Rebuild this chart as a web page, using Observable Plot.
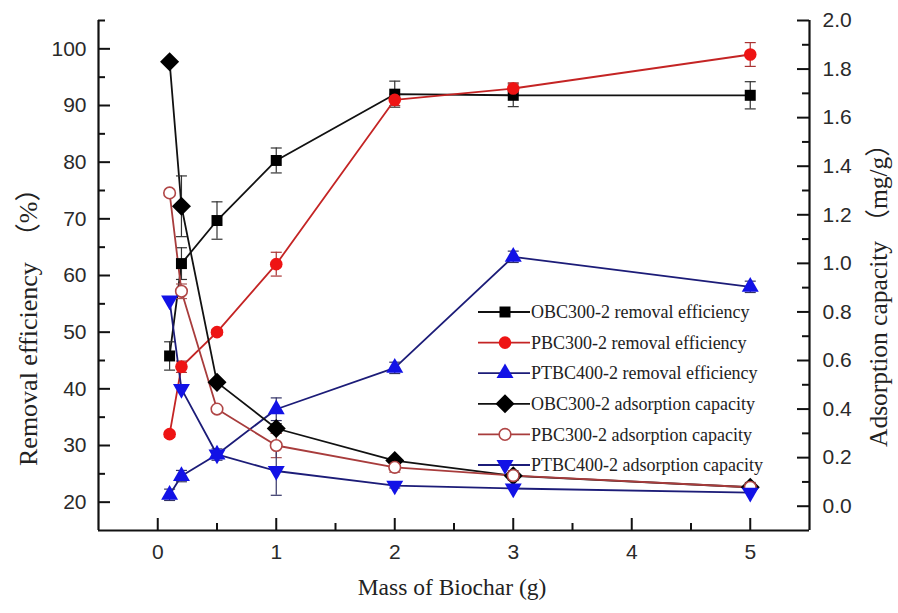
<!DOCTYPE html>
<html><head><meta charset="utf-8">
<script src="https://cdn.jsdelivr.net/npm/d3@7"></script>
<script src="https://cdn.jsdelivr.net/npm/@observablehq/plot@0.6"></script>
<style>body{margin:0;background:#fff} #chart{position:relative;width:898px;height:613px}</style>
</head><body><div id="chart"></div>
<script>
// ---- data ----
const mass = [0.1, 0.2, 0.5, 1, 2, 3, 5];
const seriesNames = [
  "OBC300-2 removal efficiency",
  "PBC300-2 removal efficiency",
  "PTBC400-2 removal efficiency",
  "OBC300-2 adsorption capacity",
  "PBC300-2 adsorption capacity",
  "PTBC400-2 adsorption capacity"
];
const obcRemoval = [45.8, 62.1, 69.7, 80.3, 92.0, 91.8, 91.8];
const obcRemovalErr = [2.5, 2.8, 3.3, 2.2, 2.3, 2.0, 2.4];
const pbcRemoval = [32.0, 43.9, 50.0, 62.0, 91.0, 93.0, 99.0];
const pbcRemovalErr = [0.5, 1.0, 0.5, 2.1, 1.0, 1.0, 2.1];
const ptbcRemoval = [21.3, 24.6, 28.4, 36.4, 43.7, 63.3, 58.0];
const ptbcRemovalErr = [1.0, 1.0, 1.0, 2.0, 1.0, 1.0, 1.0];
const obcAds = [1.83, 1.235, 0.51, 0.32, 0.188, 0.125, 0.078];
const obcAdsErr = [0, 0.125, 0.01, 0.02, 0.01, 0, 0];
const pbcAds = [1.29, 0.885, 0.40, 0.25, 0.16, 0.126, 0.078];
const pbcAdsErr = [0, 0.03, 0, 0.05, 0.02, 0.02, 0.02];
const ptbcAds = [0.847, 0.483, 0.213, 0.145, 0.085, 0.073, 0.056];
const ptbcAdsErr = [0, 0, 0, 0.1, 0.01, 0, 0];
const xTicks = [0, 1, 2, 3, 4, 5];
const xMinorTicks = [0.5, 1.5, 2.5, 3.5, 4.5];
const leftTicks = [20, 30, 40, 50, 60, 70, 80, 90, 100];
const leftMinorTicks = [25, 35, 45, 55, 65, 75, 85, 95, 105];
const rightTicks = [0.0, 0.2, 0.4, 0.6, 0.8, 1.0, 1.2, 1.4, 1.6, 1.8, 2.0];
const rightMinorTicks = [0.1, 0.3, 0.5, 0.7, 0.9, 1.1, 1.3, 1.5, 1.7, 1.9];

// ---- geometry ----
const W = 898, H = 613, mL = 98, mR = 89, mT = 20, mB = 83;
const xDomain = [-0.5, 5.5], yDomain = [15, 105];
const xPerPx = (xDomain[1] - xDomain[0]) / (W - mL - mR);
const yPerPx = (yDomain[1] - yDomain[0]) / (H - mT - mB);

// ---- symbols ----
const sqrt3 = Math.sqrt(3);
const triDown = {draw(ctx, size) {const y = -Math.sqrt(size / (sqrt3 * 3)); ctx.moveTo(0, -y * 2); ctx.lineTo(-sqrt3 * y, y); ctx.lineTo(sqrt3 * y, y); ctx.closePath();}};
const triUp = {draw(ctx, size) {const y = -Math.sqrt(size / (sqrt3 * 3)); ctx.moveTo(0, y * 2); ctx.lineTo(-sqrt3 * y, -y); ctx.lineTo(sqrt3 * y, -y); ctx.closePath();}};
const diamond = {draw(ctx, size) {const s = Math.sqrt(size / 2); ctx.moveTo(0, -s); ctx.lineTo(s, 0); ctx.lineTo(0, s); ctx.lineTo(-s, 0); ctx.closePath();}};
const square = {draw(ctx, size) {const s = Math.sqrt(size) / 2; ctx.rect(-s, -s, 2 * s, 2 * s);}};
const circle = {draw(ctx, size) {const r = Math.sqrt(size / Math.PI); ctx.moveTo(r, 0); ctx.arc(0, 0, r, 0, 2 * Math.PI);}};
const cap = {draw(ctx) {ctx.moveTo(-5.5, 0); ctx.lineTo(5.5, 0);}};

const toLeft = d3.scaleLinear([-0.1, 2.0], yDomain);
const fmt1 = d => { const v = Math.round(toLeft.invert(d) * 10) / 10; return (v === 0 ? 0 : v).toFixed(1); };

const series = [
  {name: seriesNames[0], values: obcRemoval, err: obcRemovalErr, right: false, symbol: square, r: 6.2, fill: "#000", mstroke: "none", line: "#111", errc: "#333"},
  {name: seriesNames[1], values: pbcRemoval, err: pbcRemovalErr, right: false, symbol: circle, r: 6.3, fill: "#ee1414", mstroke: "none", line: "#c42424", errc: "#a33"},
  {name: seriesNames[2], values: ptbcRemoval, err: ptbcRemovalErr, right: false, symbol: triUp, r: 6.3, fill: "#1212e6", mstroke: "none", line: "#1c1c78", errc: "#336"},
  {name: seriesNames[3], values: obcAds, err: obcAdsErr, right: true, symbol: diamond, r: 7.6, fill: "#000", mstroke: "none", line: "#111", errc: "#333"},
  {name: seriesNames[4], values: pbcAds, err: pbcAdsErr, right: true, symbol: circle, r: 5.8, fill: "#fff", mstroke: "#b04646", line: "#a83c3c", errc: "#a55"},
  {name: seriesNames[5], values: ptbcAds, err: ptbcAdsErr, right: true, symbol: triDown, r: 6.3, fill: "#1212e6", mstroke: "none", line: "#1c1c78", errc: "#336"}
];

const rowsOf = s => s.values.map((v, i) => {
  const f = s.right ? toLeft : (d => d);
  return {x: mass[i], y: f(v), lo: f(v - s.err[i]), hi: f(v + s.err[i]), e: s.err[i]};
});

const seriesMarks = series.flatMap(s => {
  const rows = rowsOf(s);
  const er = rows.filter(d => d.e > 0);
  return [
    Plot.line(rows, {x: "x", y: "y", stroke: s.line, strokeWidth: 1.8}),
    Plot.ruleX(er, {x: "x", y1: "lo", y2: "hi", stroke: s.errc, strokeWidth: 1.2}),
    Plot.dot(er, {x: "x", y: "hi", symbol: cap, stroke: s.errc, strokeWidth: 1.2}),
    Plot.dot(er, {x: "x", y: "lo", symbol: cap, stroke: s.errc, strokeWidth: 1.2})
  ];
});
const dotMarks = series.map(s => Plot.dot(rowsOf(s), {x: "x", y: "y", symbol: s.symbol, r: s.r, fill: s.fill, stroke: s.mstroke, strokeWidth: 1.6}));

// inward tick marks as short rules
const tk = {stroke: "#111", strokeWidth: 2};
const tickMarks = [
  Plot.ruleY(leftTicks, {y: d => d, x1: () => xDomain[0], x2: () => xDomain[0] + 12 * xPerPx, ...tk}),
  Plot.ruleY(leftMinorTicks, {y: d => d, x1: () => xDomain[0], x2: () => xDomain[0] + 7 * xPerPx, ...tk}),
  Plot.ruleY(rightTicks, {y: d => toLeft(d), x1: () => xDomain[1] - 12 * xPerPx, x2: () => xDomain[1], ...tk}),
  Plot.ruleY(rightMinorTicks, {y: d => toLeft(d), x1: () => xDomain[1] - 7 * xPerPx, x2: () => xDomain[1], ...tk}),
  Plot.ruleX(xTicks, {x: d => d, y1: () => yDomain[0], y2: () => yDomain[0] + 12 * yPerPx, ...tk}),
  Plot.ruleX(xMinorTicks, {x: d => d, y1: () => yDomain[0], y2: () => yDomain[0] + 7 * yPerPx, ...tk})
];

const plot = Plot.plot({
  width: W, height: H,
  marginLeft: mL, marginRight: mR, marginTop: mT, marginBottom: mB,
  x: {domain: xDomain},
  y: {domain: yDomain},
  style: {fontFamily: "'Liberation Sans', Arial, sans-serif", fontSize: "21px", color: "#2a2a2a", background: "white"},
  marks: [
    Plot.axisY({anchor: "left", ticks: leftTicks, tickSize: 0, tickPadding: 12, label: null, fontSize: 21}),
    Plot.axisY({anchor: "right", ticks: rightTicks.map(toLeft), tickFormat: fmt1, tickSize: 0, tickPadding: 13, label: null, fontSize: 21}),
    Plot.axisX({anchor: "bottom", ticks: xTicks, tickFormat: d => String(d), tickSize: 0, tickPadding: 14, label: null, fontSize: 21}),
    Plot.ruleX(xDomain, {strokeWidth: 2.2, stroke: "#111"}),
    Plot.ruleY([yDomain[0]], {strokeWidth: 2.2, stroke: "#111"}),
    ...tickMarks,
    ...seriesMarks,
    ...dotMarks
  ]
});
document.getElementById("chart").appendChild(plot);

// ---- titles and legend ----
const svg = d3.select(plot);
const serif = "'Liberation Serif', 'Times New Roman', 'Noto Sans CJK SC', serif";
svg.append("text").attr("transform", "translate(37,466) rotate(-90)").attr("text-anchor", "start").attr("font-family", serif).attr("font-size", 26).attr("fill", "#222").text("Removal efficiency\u00a0\u00a0（%）");
svg.append("text").attr("transform", "translate(887,447) rotate(-90)").attr("text-anchor", "start").attr("font-family", serif).attr("font-size", 25.5).attr("fill", "#222").text("Adsorption capacity （mg/g）");
svg.append("text").attr("x", 452).attr("y", 595).attr("text-anchor", "middle").attr("font-family", serif).attr("font-size", 23.5).attr("fill", "#222").text("Mass of Biochar (g)");

const lg = svg.append("g");
series.forEach((s, i) => {
  const y = 312 + i * 30.6;
  const g = lg.append("g").attr("transform", `translate(0,${y})`);
  g.append("line").attr("x1", 478).attr("x2", 530).attr("stroke", s.line).attr("stroke-width", 1.8);
  g.append("path").attr("transform", "translate(505,0)").attr("d", d3.symbol(s.symbol, Math.PI * s.r * s.r)()).attr("fill", s.fill).attr("stroke", s.mstroke).attr("stroke-width", 1.6);
  g.append("text").attr("x", 531).attr("dy", "0.34em").attr("text-anchor", "start").attr("font-family", serif).attr("font-size", 18).attr("fill", "#222").text(s.name);
});
</script>
</body></html>
